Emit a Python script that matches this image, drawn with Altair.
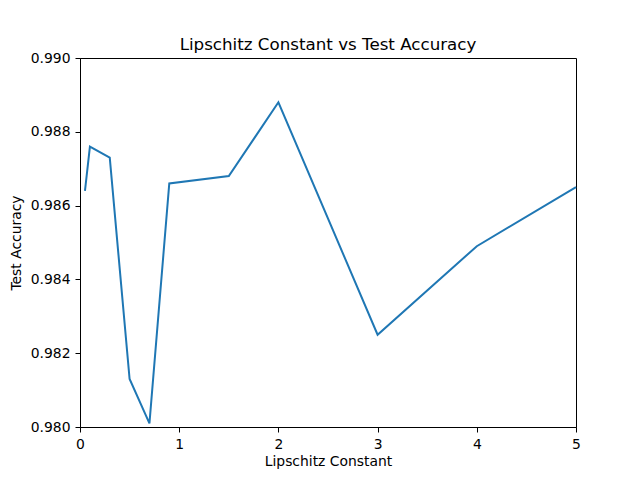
import altair as alt
import pandas as pd

lipschitz = [0.05, 0.1, 0.3, 0.5, 0.7, 0.9, 1.5, 2.0, 3.0, 4.0, 5.0]
accuracy = [0.9864, 0.9876, 0.9873, 0.9813, 0.9801, 0.9866, 0.9868, 0.9888, 0.9825, 0.9849, 0.9865]
x_ticks = [0, 1, 2, 3, 4, 5]
y_ticks = [0.980, 0.982, 0.984, 0.986, 0.988, 0.990]

df = pd.DataFrame({"Lipschitz Constant": lipschitz, "Test Accuracy": accuracy})

font = "DejaVu Sans"

chart = alt.Chart(df).mark_line(color="#1f77b4", strokeWidth=2).encode(
    x=alt.X("Lipschitz Constant:Q",
            scale=alt.Scale(domain=[0, 5], nice=False, zero=False),
            axis=alt.Axis(values=x_ticks, format="d", title="Lipschitz Constant")),
    y=alt.Y("Test Accuracy:Q",
            scale=alt.Scale(domain=[0.980, 0.990], nice=False, zero=False),
            axis=alt.Axis(values=y_ticks, format=".3f", title="Test Accuracy")),
).properties(
    width=496,
    height=369,
    title=alt.TitleParams("Lipschitz Constant vs Test Accuracy", font=font, fontSize=16.7,
                          fontWeight="normal", color="black", offset=0, dy=3),
    autosize=alt.AutoSizeParams(type="none"),
    padding={"left": 72, "top": 50, "right": 40, "bottom": 42},
).configure_axis(
    grid=False,
    domainColor="black",
    domainWidth=1,
    tickColor="black",
    tickSize=5,
    tickWidth=1,
    labelFont=font,
    labelFontSize=13.9,
    labelColor="black",
    labelFlush=False,
    titleFont=font,
    titleFontSize=13.9,
    titleFontWeight="normal",
    titleColor="black",
    labelPadding=5,
).configure_axisX(
    titlePadding=4,
).configure_axisY(
    titlePadding=7,
).configure_view(
    stroke="black",
    strokeWidth=1,
)

chart.save("out.html", embed_options={"renderer": "svg", "actions": False})
